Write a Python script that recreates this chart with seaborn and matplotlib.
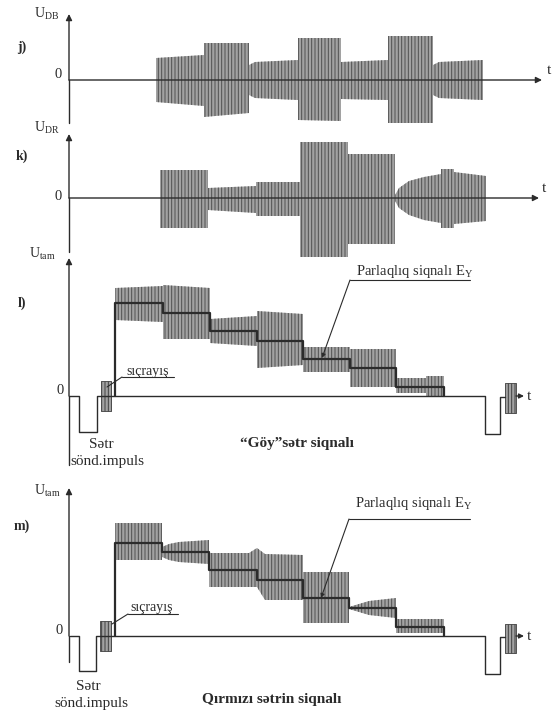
import matplotlib
matplotlib.use('Agg')
from matplotlib import pyplot as plt
import seaborn as sns

sns.set_theme(style='white')
plt.rcParams['font.family'] = ['Liberation Serif', 'DejaVu Serif']
plt.rcParams['mathtext.fontset'] = 'custom'
plt.rcParams['mathtext.rm'] = 'Liberation Serif'
plt.rcParams['mathtext.it'] = 'Liberation Serif:italic'
plt.rcParams['hatch.color'] = '#505050'
plt.rcParams['hatch.linewidth'] = 0.7

INK = '#2b2b2b'
FILL = '#a2a2a2'
HATCH = '|||||'

# ============================================
# data (t: time units from the y axis, a: amplitude above zero)
# ============================================
# j) U_DB - colour difference signal (blue)
j_t = [87, 135, 135, 180, 180, 186, 229, 229, 272, 272, 319, 319, 364, 364, 370, 414]
j_up = [22, 25, 37, 37, 15, 18, 20, 42, 42, 18, 20, 44, 44, 15, 18, 20]
j_lo = [22, 26, 37, 33, 15, 18, 20, 40, 41, 19, 20, 43, 43, 15, 18, 20]

# k) U_DR - colour difference signal (red)
k_t = [91, 139, 139, 187, 187, 231, 231, 279, 279, 326, 326, 330, 340, 355, 372, 372, 385, 385, 417]
k_up = [28, 28, 10, 12, 16, 16, 56, 56, 44, 44, 3, 10, 17, 21, 24, 29, 29, 26, 22]
k_lo = [30, 30, 12, 15, 18, 18, 59, 59, 46, 46, 3, 10, 17, 22, 25, 30, 30, 26, 23]

# l) "Göy" line - luminance staircase + chroma envelope
l_edges = [46, 94, 141, 188, 234, 281, 327, 375]
l_levels = [93, 83, 65, 55, 37, 28, 9]
l_env_t = [46, 94, 94, 141, 141, 188, 188, 234, 234, 281, 281, 327, 327, 357, 357, 375]
l_env_top = [108, 110, 111, 108, 77, 80, 85, 82, 49, 49, 47, 47, 18, 18, 20, 20]
l_env_bot = [76, 74, 57, 57, 53, 50, 28, 31, 24, 24, 9, 9, 3, 3, 0, 0]
l_sync_t = [0, 10, 10, 28, 28, 416, 416, 431, 431, 436]
l_sync_a = [0, 0, -36, -36, 0, 0, -38, -38, -1, -1]
l_burst_t = [(32, 42), (436, 447)]
l_burst_a = [(-15, 15), (-17, 13)]

# m) red line - luminance staircase + chroma envelope
m_edges = [46, 93, 140, 188, 234, 280, 327, 375]
m_levels = [93, 84, 66, 56, 38, 28, 9]
m_env_t = [46, 93, 93, 100, 110, 140, 140, 180, 188, 188, 196, 234, 234, 280, 280, 290, 300, 327, 327, 375]
m_env_top = [113, 113, 89, 92, 94, 96, 83, 83, 88, 88, 82, 81, 64, 64, 29, 32, 35, 38, 17, 17]
m_env_bot = [76, 76, 79, 76, 74, 72, 49, 49, 49, 49, 36, 36, 13, 13, 27, 24, 21, 18, 3, 3]
m_sync_t = [1, 10, 10, 27, 27, 416, 416, 431, 431, 436]
m_sync_a = [0, 0, -35, -35, 0, 0, -38, -38, -1, -1]
m_burst_t = [(31, 42), (436, 447)]
m_burst_a = [(-15, 15), (-17, 12)]

# ============================================
# layout: every panel uses one full-figure axes, 1 unit = 1 px
# ============================================
W, H = 555, 716
Y_AXIS_X = 69
ZERO_ROW = {'j': 80, 'k': 198, 'l': 396, 'm': 636}

fig = plt.figure(figsize=(W / 100, H / 100), dpi=100)
fig.patch.set_facecolor('white')


def panel(key):
    ax = fig.add_axes([0, 0, 1, 1])
    ax.set_xlim(-Y_AXIS_X, W - Y_AXIS_X)
    ax.set_ylim(ZERO_ROW[key] - H, ZERO_ROW[key])
    ax.set_facecolor('none')
    ax.axis('off')
    return ax


def arrow(ax, x0, y0, x1, y1, lw=1.0, ms=9):
    ax.annotate('', xy=(x1, y1), xytext=(x0, y0),
                arrowprops=dict(arrowstyle='-|>', color=INK, lw=lw,
                                mutation_scale=ms, shrinkA=0, shrinkB=0))


def envelope(ax, t, top, bot):
    ax.fill_between(t, bot, top, facecolor=FILL, edgecolor='#505050',
                    hatch=HATCH, linewidth=0)


def staircase(ax, edges, levels):
    xs, ys = [edges[0], edges[0]], [0, levels[0]]
    for i, lev in enumerate(levels):
        xs.append(edges[i + 1])
        ys.append(lev)
        if i + 1 < len(levels):
            xs.append(edges[i + 1])
            ys.append(levels[i + 1])
    xs.append(edges[-1])
    ys.append(0)
    sns.lineplot(x=xs, y=ys, ax=ax, sort=False, estimator=None,
                 color=INK, lw=1.6, legend=False)


def bursts(ax, spans, amps):
    for (t0, t1), (a0, a1) in zip(spans, amps):
        ax.fill_between([t0, t1], [a0, a0], [a1, a1], facecolor=FILL,
                        edgecolor='#404040', hatch=HATCH, linewidth=0.6)


def label_block(ax, sym, sub, panel_lbl, ysym, ylbl, ysub_x=-22):
    ax.text(ysub_x, ysym, sym + r'$_{\rm ' + sub + '}$', fontsize=10,
            ha='center', va='center', color=INK)
    ax.text(-47, ylbl, panel_lbl, fontsize=10, fontweight='bold',
            ha='center', va='center', color=INK)


# ---------- j) ----------
ax = panel('j')
envelope(ax, j_t, j_up, [-v for v in j_lo])
ax.plot([0, 0], [-43, 0], color=INK, lw=1)
arrow(ax, 0, 0, 0, 66)
arrow(ax, 0, 0, 473, 0)
label_block(ax, 'U', 'DB', 'j)', 66, 33)
ax.text(-11, 5, '0', fontsize=10.5, ha='center', va='center', color=INK)
ax.text(480, 10, 't', fontsize=11, ha='center', va='center', color=INK)

# ---------- k) ----------
ax = panel('k')
envelope(ax, k_t, k_up, [-v for v in k_lo])
ax.plot([0, 0], [-54, 0], color=INK, lw=1)
arrow(ax, 0, 0, 0, 64)
arrow(ax, 0, 0, 470, 0)
label_block(ax, 'U', 'DR', 'k)', 70, 42)
ax.text(-11, 2, '0', fontsize=10.5, ha='center', va='center', color=INK)
ax.text(475, 10, 't', fontsize=11, ha='center', va='center', color=INK)


def composite(key, edges, levels, env_t, env_top, env_bot, sync_t, sync_a,
              b_t, b_a, axis_bottom, axis_top, usub, plbl):
    ax = panel(key)
    envelope(ax, env_t, env_top, env_bot)
    sns.lineplot(x=sync_t, y=sync_a, ax=ax, sort=False, estimator=None,
                 color=INK, lw=1, legend=False)
    staircase(ax, edges, levels)
    bursts(ax, b_t, b_a)
    ax.plot([0, 0], [axis_bottom, 0], color=INK, lw=1)
    arrow(ax, 0, 0, 0, axis_top)
    arrow(ax, b_t[-1][1], 0, 455, 0, ms=7)
    ax.text(460, 0, 't', fontsize=11, ha='center', va='center', color=INK)
    return ax


# ---------- l) ----------
ax = composite('l', l_edges, l_levels, l_env_t, l_env_top, l_env_bot,
               l_sync_t, l_sync_a, l_burst_t, l_burst_a, -69, 138, 'tam', 'l)')
label_block(ax, 'U', 'tam', 'l)', 142, 93, ysub_x=-27)
ax.text(-9, 6, '0', fontsize=10.5, ha='center', va='center', color=INK)
ax.text(79, 24, 'sıçrayış', fontsize=10, ha='center', va='center', color=INK)
ax.plot([53, 105], [19, 19], color=INK, lw=0.8)
ax.plot([53, 38], [19, 9], color=INK, lw=0.8)
ax.text(32, -49, 'Sətr', fontsize=11, ha='center', va='center', color=INK)
ax.text(38, -66, 'sönd.impuls', fontsize=11, ha='center', va='center', color=INK)
ax.text(228, -48, '“Göy”sətr siqnalı', fontsize=11, fontweight='bold',
        ha='center', va='center', color=INK)
ax.text(346, 125, r'Parlaqlıq siqnalı E$_{\rm Y}$', fontsize=10.5,
        ha='center', va='center', color=INK)
ax.plot([281, 401], [116, 116], color=INK, lw=0.8)
arrow(ax, 281, 116, 253, 38, lw=0.8, ms=6)

# ---------- m) ----------
ax = composite('m', m_edges, m_levels, m_env_t, m_env_top, m_env_bot,
               m_sync_t, m_sync_a, m_burst_t, m_burst_a, -26, 148, 'tam', 'm)')
label_block(ax, 'U', 'tam', 'm)', 145, 110, ysub_x=-22)
ax.text(-10, 6, '0', fontsize=10.5, ha='center', va='center', color=INK)
ax.text(83, 29, 'sıçrayış', fontsize=10, ha='center', va='center', color=INK)
ax.plot([59, 109], [22, 22], color=INK, lw=0.8)
ax.plot([59, 43], [22, 12], color=INK, lw=0.8)
ax.text(19, -50, 'Sətr', fontsize=11, ha='center', va='center', color=INK)
ax.text(22, -67, 'sönd.impuls', fontsize=11, ha='center', va='center', color=INK)
ax.text(203, -63, 'Qırmızı sətrin siqnalı', fontsize=11, fontweight='bold',
        ha='center', va='center', color=INK)
ax.text(345, 133, r'Parlaqlıq siqnalı E$_{\rm Y}$', fontsize=10.5,
        ha='center', va='center', color=INK)
ax.plot([280, 401], [117, 117], color=INK, lw=0.8)
arrow(ax, 280, 117, 252, 38, lw=0.8, ms=6)

fig.savefig('out.png', dpi=100, facecolor='white')
plt.close(fig)
